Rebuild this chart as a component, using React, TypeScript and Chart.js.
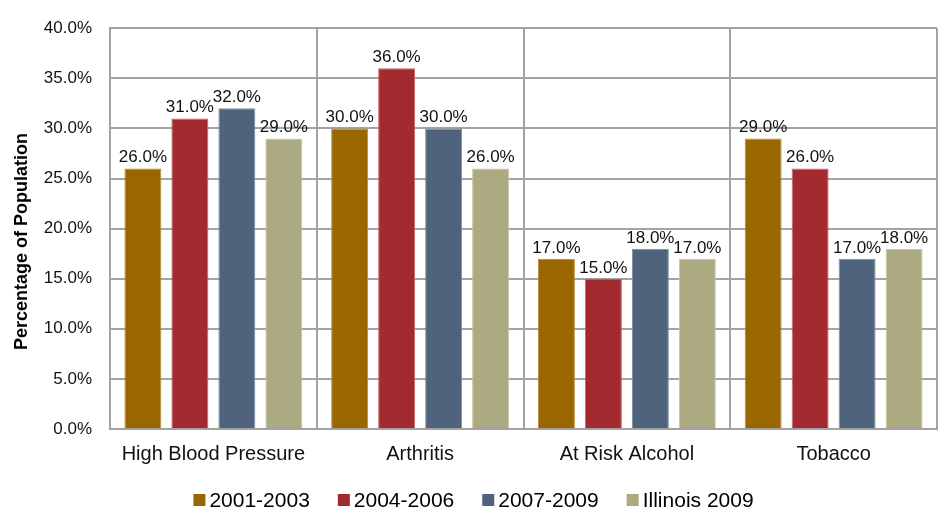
import React, { useEffect, useRef } from "react";
import { Chart, registerables } from "chart.js";

Chart.register(...registerables);

const categories = ["High Blood Pressure", "Arthritis", "At Risk Alcohol", "Tobacco"];
const seriesNames = ["2001-2003", "2004-2006", "2007-2009", "Illinois 2009"];
const values2001_2003 = [26, 30, 17, 29];
const values2004_2006 = [31, 36, 15, 26];
const values2007_2009 = [32, 30, 18, 17];
const valuesIllinois2009 = [29, 26, 17, 18];
const seriesColors = ["#996600", "#A32B2F", "#4F647C", "#ABAA80"];
const seriesBorders = ["#B58A3E", "#C06468", "#7D8FA3", "#C6C5A6"];
const yAxisTitle = "Percentage of Population";
const yMin = 0;
const yMax = 40;
const yStep = 5;

const FONT = "'Liberation Sans', Arial, sans-serif";
const GRID = "#a3a3a3";

const dataLabelPlugin = {
  id: "dataLabels",
  afterDatasetsDraw(chart: any) {
    const ctx = chart.ctx;
    ctx.save();
    ctx.font = `17px ${FONT}`;
    ctx.fillStyle = "#111";
    ctx.textAlign = "center";
    ctx.textBaseline = "alphabetic";
    chart.data.datasets.forEach((ds: any, di: number) => {
      const meta = chart.getDatasetMeta(di);
      meta.data.forEach((el: any, i: number) => {
        const v = ds.data[i];
        ctx.fillText(v.toFixed(1) + "%", el.x, el.y - 6);
      });
    });
    ctx.restore();
  },
};

const yTitlePlugin = {
  id: "yTitle",
  afterDraw(chart: any) {
    const ctx = chart.ctx;
    const area = chart.chartArea;
    ctx.save();
    ctx.font = `bold 18px ${FONT}`;
    ctx.fillStyle = "#000";
    ctx.textAlign = "center";
    ctx.textBaseline = "middle";
    ctx.translate(22, (area.top + area.bottom) / 2 + 13);
    ctx.rotate(-Math.PI / 2);
    ctx.fillText(yAxisTitle, 0, 0);
    ctx.restore();
  },
};

const legendPlugin = {
  id: "customLegend",
  afterDraw(chart: any) {
    const ctx = chart.ctx;
    ctx.save();
    ctx.font = `21px ${FONT}`;
    ctx.textBaseline = "middle";
    ctx.textAlign = "left";
    const box = 12;
    const gapText = 4;
    const gapItem = 28;
    const datasets = chart.data.datasets;
    const widths = datasets.map((d: any) => ctx.measureText(d.label).width);
    let total = 0;
    widths.forEach((w: number, i: number) => {
      total += box + gapText + w + (i < widths.length - 1 ? gapItem : 0);
    });
    let x = chart.width / 2 - total / 2 + 2;
    const yc = 500;
    datasets.forEach((d: any, i: number) => {
      ctx.fillStyle = d.backgroundColor;
      ctx.fillRect(x, yc - box / 2, box, box);
      x += box + gapText;
      ctx.fillStyle = "#000";
      ctx.fillText(d.label, x, yc + 1);
      x += widths[i] + gapItem;
    });
    ctx.restore();
  },
};

export default function App() {
  const canvasRef = useRef<HTMLCanvasElement | null>(null);

  useEffect(() => {
    if (!canvasRef.current) return;
    const allValues = [values2001_2003, values2004_2006, values2007_2009, valuesIllinois2009];
    const chart = new Chart(canvasRef.current, {
      type: "bar",
      data: {
        labels: categories,
        datasets: allValues.map((vals, i) => ({
          label: seriesNames[i],
          data: vals,
          backgroundColor: seriesColors[i],
          borderColor: seriesBorders[i],
          borderWidth: 1,
          categoryPercentage: 0.909,
          barPercentage: 0.787,
        })),
      },
      options: {
        responsive: false,
        animation: false,
        layout: { padding: { top: 17, right: 6, bottom: 44, left: 0 } },
        plugins: {
          legend: { display: false },
          tooltip: { enabled: false },
          title: { display: false },
        },
        scales: {
          x: {
            grid: { display: true, offset: true, color: GRID, lineWidth: 2, drawTicks: false },
            border: { display: true, color: GRID, width: 2 },
            ticks: { color: "#111", font: { family: FONT, size: 20 }, padding: 13, maxRotation: 0 },
            afterFit: (scale: any) => {
              scale.height = 40;
            },
          },
          y: {
            min: yMin,
            max: yMax,
            grid: { color: GRID, lineWidth: 2, drawTicks: false },
            border: { display: true, color: GRID, width: 2 },
            ticks: {
              stepSize: yStep,
              color: "#111",
              font: { family: FONT, size: 17 },
              padding: 18,
              callback: (v: any) => Number(v).toFixed(1) + "%",
            },
            afterFit: (scale: any) => {
              scale.width = 110;
            },
          },
        },
      },
      plugins: [dataLabelPlugin, yTitlePlugin, legendPlugin],
    });
    return () => chart.destroy();
  }, []);

  return (
    <div style={{ position: "fixed", left: 0, top: 0, width: 943, height: 513, background: "#fff" }}>
      <canvas ref={canvasRef} width={943} height={513} style={{ display: "block" }} />
    </div>
  );
}
